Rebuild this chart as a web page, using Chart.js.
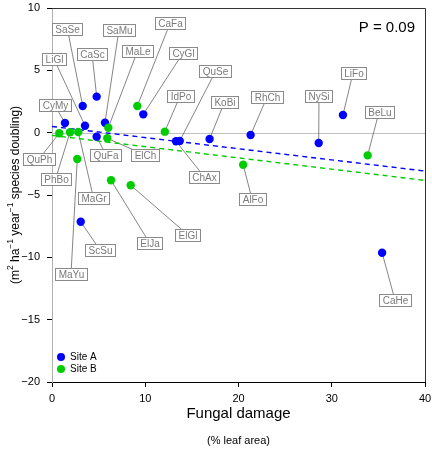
<!DOCTYPE html>
<html>
<head>
<meta charset="utf-8">
<script src="https://cdn.jsdelivr.net/npm/chart.js@4"></script>
<style>
  html, body { margin: 0; padding: 0; background: #fff; }
  #wrap { width: 432px; height: 449px; }
</style>
</head>
<body>
<div id="wrap"><canvas id="chart" width="432" height="449"></canvas></div>
<script>
// Site A (blue) - species codes, fungal damage, response
const namesA = ['CyMy', 'SaSe', 'LiGl', 'CaSc', 'SaMu', 'QuFa', 'CyGl', 'ChAx', 'QuSe', 'KoBi', 'RhCh', 'NySi', 'LiFo', 'ScSu', 'CaHe'];
const damageA = [1.39, 3.29, 3.54, 4.79, 5.68, 4.79, 9.79, 13.3, 13.7, 16.9, 21.3, 28.6, 31.2, 3.08, 35.4];
const valueA = [0.78, 2.14, 0.56, 2.89, 0.80, -0.32, 1.47, -0.69, -0.67, -0.51, -0.19, -0.83, 1.42, -7.14, -9.63];
// where each label box sits (data units)
const labelXA = [0.27, 1.66, 0.21, 4.29, 7.18, 5.79, 14.05, 16.35, 17.53, 18.5, 23.06, 28.63, 32.28, 5.15, 36.78];
const labelYA = [2.22, 8.28, 5.91, 6.35, 8.24, -1.79, 6.39, -3.56, 4.91, 2.46, 2.86, 2.94, 4.79, -9.42, -13.42];

// Site B (green)
const namesB = ['QuPh', 'PhBo', 'MaGr', 'MaYu', 'ElCh', 'MaLe', 'CaFa', 'IdPo', 'ElJa', 'ElGl', 'AlFo', 'BeLu'];
const damageB = [0.78, 1.93, 2.82, 2.71, 5.93, 6.04, 9.15, 12.1, 6.33, 8.44, 20.5, 33.85];
const valueB = [-0.05, 0.03, 0.05, -2.11, -0.45, 0.40, 2.14, 0.08, -3.82, -4.22, -2.57, -1.82];
const labelXB = [-1.39, 0.38, 4.45, 2.04, 9.97, 9.17, 12.65, 13.73, 10.46, 14.58, 21.45, 35.07];
const labelYB = [-2.11, -3.72, -5.24, -11.3, -1.79, 6.55, 8.76, 2.94, -8.84, -8.2, -5.32, 1.66];

// fitted lines (end points)
const fitX = [0, 40];
const fitA = [0.5, -3.08];
const fitB = [-0.22, -3.83];

const xTicks = [0, 10, 20, 30, 40];
const yTicks = [-20, -15, -10, -5, 0, 5, 10];

const BLUE = '#0000ff';
const GREEN = '#00cd00';
const FONT = "'Liberation Sans', Arial, Helvetica, sans-serif";

function pts(xs, ys) {
    return xs.map((x, i) => ({ x: x, y: ys[i] }));
}

// 零線、標籤連線
const underlay = {
    id: 'underlay',
    beforeDatasetsDraw(chart) {
        const ctx = chart.ctx;
        const xs = chart.scales.x, ys = chart.scales.y;
        const area = chart.chartArea;
        ctx.save();
        ctx.strokeStyle = '#c0c0c0';
        ctx.lineWidth = 1;
        const y0 = Math.round(ys.getPixelForValue(0)) + 0.5;
        ctx.beginPath();
        ctx.moveTo(area.left, y0);
        ctx.lineTo(area.right, y0);
        ctx.stroke();

        ctx.strokeStyle = '#666';
        ctx.lineWidth = 0.8;
        const link = (dx, dy, lx, ly) => {
            dx.forEach((x, i) => {
                ctx.beginPath();
                ctx.moveTo(xs.getPixelForValue(x), ys.getPixelForValue(dy[i]));
                ctx.lineTo(xs.getPixelForValue(lx[i]), ys.getPixelForValue(ly[i]));
                ctx.stroke();
            });
        };
        link(damageA, valueA, labelXA, labelYA);
        link(damageB, valueB, labelXB, labelYB);
        ctx.restore();
    }
};

// 標籤框、外框、文字、圖例
const overlay = {
    id: 'overlay',
    afterDraw(chart) {
        const ctx = chart.ctx;
        const xs = chart.scales.x, ys = chart.scales.y;
        const area = chart.chartArea;
        ctx.save();

        // label boxes
        ctx.font = '10px ' + FONT;
        ctx.textAlign = 'center';
        ctx.textBaseline = 'middle';
        const boxes = (names, lx, ly) => {
            names.forEach((n, i) => {
                const cx = xs.getPixelForValue(lx[i]);
                const cy = ys.getPixelForValue(ly[i]);
                const w = Math.round(ctx.measureText(n).width + 6);
                const h = 12;
                const bx = Math.round(cx - w / 2) + 0.5, by = Math.round(cy - h / 2) + 0.5;
                ctx.fillStyle = '#fff';
                ctx.fillRect(bx, by, w, h);
                ctx.strokeStyle = '#8a8a8a';
                ctx.lineWidth = 1;
                ctx.strokeRect(bx, by, w, h);
                ctx.fillStyle = '#7a7a7a';
                ctx.fillText(n, bx + w / 2, by + h / 2 + 0.5);
            });
        };
        boxes(namesA, labelXA, labelYA);
        boxes(namesB, labelXB, labelYB);

        // top and right frame
        ctx.strokeStyle = '#333';
        ctx.lineWidth = 1;
        ctx.beginPath();
        ctx.moveTo(area.left, Math.round(area.top) + 0.5);
        ctx.lineTo(Math.round(area.right) + 0.5, Math.round(area.top) + 0.5);
        ctx.lineTo(Math.round(area.right) + 0.5, area.bottom);
        ctx.stroke();

        // P value
        ctx.fillStyle = '#000';
        ctx.font = '15px ' + FONT;
        ctx.textAlign = 'right';
        ctx.textBaseline = 'alphabetic';
        ctx.fillText('P = 0.09', 415, 32);

        // legend
        ctx.font = '10px ' + FONT;
        ctx.textAlign = 'left';
        ctx.textBaseline = 'middle';
        [['Site A', BLUE], ['Site B', GREEN]].forEach((it, i) => {
            const ly = 357 + i * 12;
            ctx.fillStyle = it[1];
            ctx.beginPath();
            ctx.arc(61, ly, 4, 0, Math.PI * 2);
            ctx.fill();
            ctx.fillStyle = '#000';
            ctx.fillText(it[0], 70, ly + 0.5);
        });

        // x titles
        const midX = (area.left + area.right) / 2;
        ctx.textAlign = 'center';
        ctx.font = '15px ' + FONT;
        ctx.fillText('Fungal damage', midX, 414);
        ctx.font = '11px ' + FONT;
        ctx.fillText('(% leaf area)', midX, 441);

        // y title with superscripts
        const parts = [
            ['(m', false], ['2', true], [' ha', false], ['\u22121', true],
            [' year', false], ['\u22121', true], [' species doubling)', false]
        ];
        const big = '12px ' + FONT, small = '8.5px ' + FONT;
        let total = 0;
        parts.forEach(p => { ctx.font = p[1] ? small : big; total += ctx.measureText(p[0]).width; });
        ctx.translate(16, (area.top + area.bottom) / 2);
        ctx.rotate(-Math.PI / 2);
        ctx.textAlign = 'left';
        ctx.textBaseline = 'middle';
        let pos = -total / 2;
        parts.forEach(p => {
            ctx.font = p[1] ? small : big;
            ctx.fillText(p[0], pos, p[1] ? -5 : 0);
            pos += ctx.measureText(p[0]).width;
        });
        ctx.restore();
    }
};

const minus = v => String(v).replace('-', '\u2212');

new Chart(document.getElementById('chart'), {
    type: 'scatter',
    data: {
        datasets: [
            { label: 'Site B', data: pts(damageB, valueB), backgroundColor: GREEN, borderWidth: 0, pointRadius: 4.2, pointHoverRadius: 4.2 },
            { label: 'Site A', data: pts(damageA, valueA), backgroundColor: BLUE, borderWidth: 0, pointRadius: 4.2, pointHoverRadius: 4.2 },
            { type: 'line', label: 'fit A', data: pts(fitX, fitA), borderColor: BLUE, borderWidth: 1.4, borderDash: [5, 4], pointRadius: 0, fill: false },
            { type: 'line', label: 'fit B', data: pts(fitX, fitB), borderColor: GREEN, borderWidth: 1.4, borderDash: [5, 4], pointRadius: 0, fill: false }
        ]
    },
    options: {
        responsive: false,
        animation: false,
        events: [],
        layout: { padding: { top: 8, right: 7, left: 0, bottom: 0 } },
        plugins: { legend: { display: false }, tooltip: { enabled: false } },
        scales: {
            x: {
                type: 'linear', min: 0, max: 40,
                afterBuildTicks: s => { s.ticks = xTicks.map(v => ({ value: v })); },
                afterFit: s => { s.height = 67; s.paddingLeft = 0; s.paddingRight = 0; },
                ticks: { font: { family: FONT, size: 11 }, color: '#000', padding: 5, maxRotation: 0 },
                grid: { drawOnChartArea: false, drawTicks: true, tickLength: 5, color: '#000' },
                border: { display: true, color: '#000', width: 1 }
            },
            y: {
                type: 'linear', min: -20, max: 10,
                afterBuildTicks: s => { s.ticks = yTicks.map(v => ({ value: v })); },
                afterFit: s => { s.width = 52; s.paddingTop = 0; s.paddingBottom = 0; },
                ticks: { font: { family: FONT, size: 11 }, color: '#000', padding: 7, callback: v => minus(v) },
                grid: { drawOnChartArea: false, drawTicks: true, tickLength: 5, color: '#000' },
                border: { display: true, color: '#b0b0b0', width: 1 }
            }
        }
    },
    plugins: [underlay, overlay]
});
</script>
</body>
</html>
